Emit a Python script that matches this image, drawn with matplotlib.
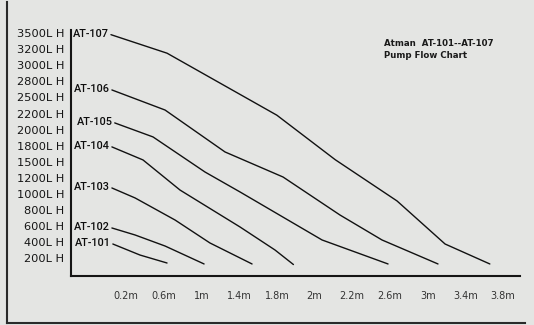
import numpy as np
import matplotlib
matplotlib.use("Agg")
import matplotlib.pyplot as plt
from matplotlib.lines import Line2D

# ---- data ----
head_ticks = [0.2, 0.6, 1.0, 1.4, 1.8, 2.0, 2.2, 2.6, 3.0, 3.4, 3.8]
head_labels = ["0.2m", "0.6m", "1m", "1.4m", "1.8m", "2m", "2.2m", "2.6m", "3m", "3.4m", "3.8m"]
flow_ticks = [200, 400, 600, 800, 1000, 1200, 1500, 1800, 2000, 2200, 2500, 2800, 3000, 3200, 3500]
flow_labels = ["200L H", "400L H", "600L H", "800L H", "1000L H", "1200L H", "1500L H", "1800L H",
               "2000L H", "2200L H", "2500L H", "2800L H", "3000L H", "3200L H", "3500L H"]

models = ["AT-107", "AT-106", "AT-105", "AT-104", "AT-103", "AT-102", "AT-101"]
at107_head = [0.04, 0.635, 1.80, 2.11, 2.675, 3.185, 3.66]
at107_flow = [3470, 3150, 2180, 1540, 915, 380, 132]
at106_head = [0.05, 0.614, 1.25, 1.833, 2.135, 2.516, 3.11]
at106_flow = [2640, 2266, 1685, 1218, 740, 430, 132]
at105_head = [0.08, 0.486, 1.038, 1.41, 2.04, 2.58]
at105_flow = [2084, 1910, 1311, 1026, 430, 132]
at104_head = [0.05, 0.38, 0.773, 1.41, 1.78, 1.888]
at104_flow = [1779, 1536, 1050, 591, 306, 125]
at103_head = [0.05, 0.296, 0.72, 1.09, 1.537]
at103_flow = [1076, 952, 678, 393, 132]
at102_head = [0.05, 0.296, 0.614, 1.028]
at102_flow = [579, 492, 355, 132]
at101_head = [0.06, 0.348, 0.635]
at101_flow = [380, 243, 144]

series = [(at107_head, at107_flow), (at106_head, at106_flow), (at105_head, at105_flow),
          (at104_head, at104_flow), (at103_head, at103_flow), (at102_head, at102_flow),
          (at101_head, at101_flow)]

# ---- scales: tick values equally spaced (as on the original chart) ----
def make_scale(vals):
    v = np.asarray(vals, float)
    idx = np.arange(len(v), dtype=float)
    lo_step = v[1] - v[0]
    hi_step = v[-1] - v[-2]
    ve = np.concatenate([[v[0] - 10 * lo_step], v, [v[-1] + 10 * hi_step]])
    ie = np.concatenate([[-10.0], idx, [idx[-1] + 10]])
    fwd = lambda x: np.interp(x, ve, ie)
    inv = lambda i: np.interp(i, ie, ve)
    return fwd, inv

xf, xi = make_scale(head_ticks)
yf, yi = make_scale(flow_ticks)

bg = "#e4e5e3"
fig = plt.figure(figsize=(5.34, 3.25), dpi=100, facecolor=bg)
ax = fig.add_axes([71 / 534, 49.5 / 325, 449 / 534, 245.5 / 325])
ax.set_facecolor(bg)
ax.set_xscale("function", functions=(xf, xi))
ax.set_yscale("function", functions=(yf, yi))
ax.set_xlim(xi(-1.46), xi(10.45))
ax.set_ylim(yi(-1.056), yi(14.19))

for name, (h, f) in zip(models, series):
    ax.plot(h, f, color="#111111", lw=1.0, solid_capstyle="round")
    ax.annotate(name, xy=(h[0], f[0]), xytext=(-1.2, 0.5), textcoords="offset points",
                ha="right", va="center", fontsize=7.8, color="#0d0d0d",
                family="Roboto", fontweight="medium")

ax.set_xticks(head_ticks)
ax.set_xticklabels(head_labels)
ax.set_yticks(flow_ticks)
ax.set_yticklabels(flow_labels)
ax.minorticks_off()
ax.tick_params(axis="x", length=0, pad=11, labelsize=7, labelcolor="#333333")
ax.tick_params(axis="y", length=0, pad=5, labelsize=8.2, labelcolor="#151515")
for s in ("top", "right"):
    ax.spines[s].set_visible(False)
for s in ("left", "bottom"):
    ax.spines[s].set_color("#151515")
    ax.spines[s].set_linewidth(1.5)

fig.text(384 / 534, 1 - 44 / 325, "Atman  AT-101--AT-107", fontsize=6.2, fontweight="bold",
         color="#1a1a1a", va="center", ha="left")
fig.text(384 / 534, 1 - 55 / 325, "Pump Flow Chart", fontsize=6.2, fontweight="bold",
         color="#1a1a1a", va="center", ha="left")

# scanned page border
fig.add_artist(Line2D([6.5 / 534, 6.5 / 534], [1 - 2 / 325, 1 - 322.5 / 325],
                      transform=fig.transFigure, color="#2a2a2a", lw=1.5))
fig.add_artist(Line2D([6.5 / 534, 525 / 534], [1 - 322.5 / 325, 1 - 322.5 / 325],
                      transform=fig.transFigure, color="#2a2a2a", lw=1.5))

fig.savefig("out.png", dpi=100, facecolor=bg)
